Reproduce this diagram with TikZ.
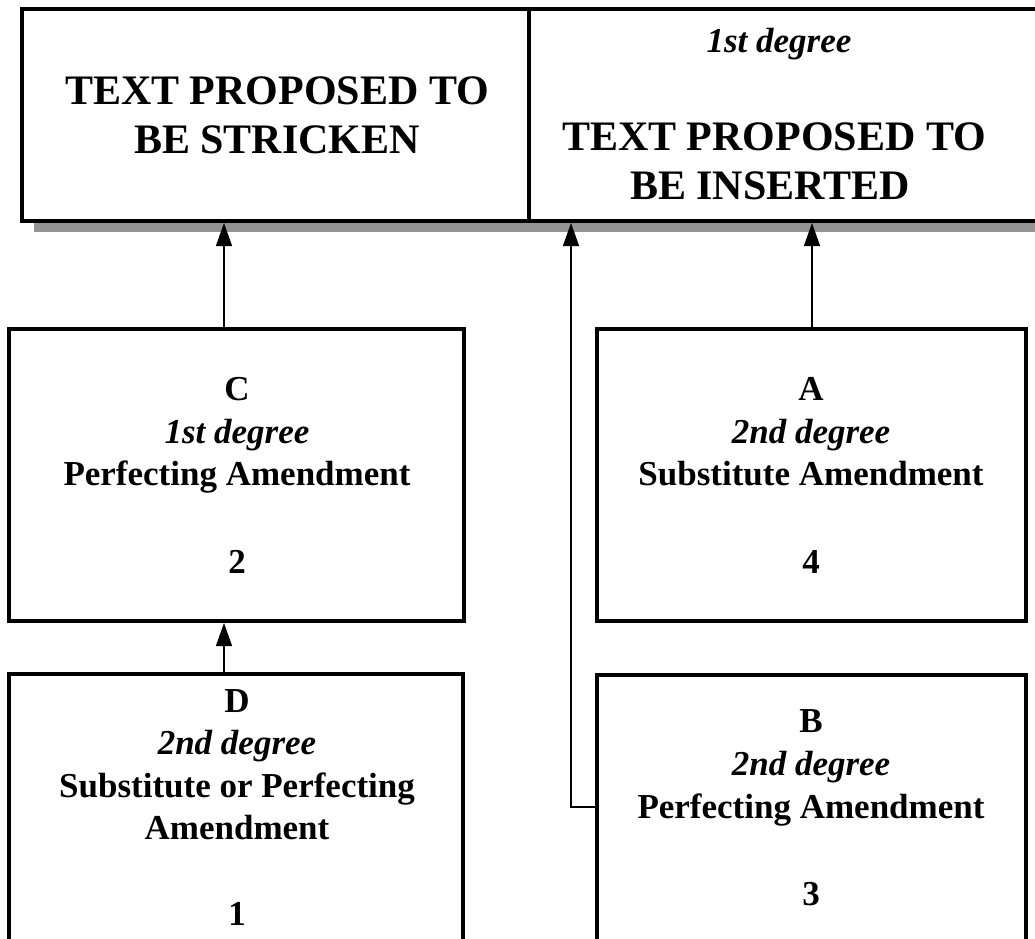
\documentclass[tikz,border=0pt]{standalone}
\usepackage{fontspec}
\setmainfont{Liberation Serif}
\usetikzlibrary{arrows.meta}
\tikzset{
  box/.style={draw=black, line width=4pt, fill=white, inner sep=0pt, line join=miter, rectangle},
  conn/.style={draw=black, line width=1.3pt, -{Triangle[length=23pt,width=16pt]}},
  big/.style={anchor=base, inner sep=0pt, font=\bfseries\fontsize{42}{49}\selectfont},
  lbl/.style={anchor=base, inner sep=0pt, font=\bfseries\fontsize{35}{42}\selectfont},
  ital/.style={anchor=base, inner sep=0pt, font=\bfseries\itshape\fontsize{35}{42}\selectfont},
}
\begin{document}
\begin{tikzpicture}[x=1pt, y=-1pt]
\useasboundingbox (0,0) rectangle (1035,938);
\clip (0,0) rectangle (1035,938);
% shadow of top box
\fill[black!42] (34,20) rectangle (1060,232);
% top boxes
\node[box, minimum width=507pt, minimum height=212pt] (strick) at (275.5,115) {};
\node[box, minimum width=520pt, minimum height=212pt] (insert) at (789,115) {};
% middle boxes
\node[box, minimum width=455pt, minimum height=292pt] (C) at (236.5,475) {};
\node[box, minimum width=429pt, minimum height=292pt] (A) at (811.5,475) {};
% bottom boxes
\node[box, minimum width=454pt, minimum height=300pt] (D) at (236,824) {};
\node[box, minimum width=429pt, minimum height=300pt] (B) at (811.5,825) {};
% connector x positions
\coordinate (xl) at (224,0);
\coordinate (xm) at (571,0);
\coordinate (xr) at (812,0);
\coordinate (bend) at (571,807);
% connectors
\draw[conn] (C.north -| xl) -- (strick.south -| xl);
\draw[conn] (A.north -| xr) -- (insert.south -| xr);
\draw[conn] (D.north -| xl) -- (C.south -| xl);
\draw[conn] (B.west |- bend) -- (bend) -- (insert.south -| xm);
% texts
\node[big] (t1) at (277,104) {TEXT PROPOSED TO};
\node[big] (t2) at (277,153) {BE STRICKEN};
\node[ital] (t3) at (779,52) {1st degree};
\node[big] (t4) at (774,150) {TEXT PROPOSED TO};
\node[big] (t5) at (770,199) {BE INSERTED};
\node[lbl] (c1) at (237,400) {C};
\node[ital] (c2) at (237,443) {1st degree};
\node[lbl] (c3) at (237,485) {Perfecting Amendment};
\node[lbl] (c4) at (237,573) {2};
\node[lbl] (a1) at (811,400) {A};
\node[ital] (a2) at (811,443) {2nd degree};
\node[lbl] (a3) at (811,485) {Substitute Amendment};
\node[lbl] (a4) at (811,573) {4};
\node[lbl] (d1) at (237,712) {D};
\node[ital] (d2) at (237,754) {2nd degree};
\node[lbl] (d3) at (237,797) {Substitute or Perfecting};
\node[lbl] (d4) at (237,839) {Amendment};
\node[lbl] (d5) at (237,925) {1};
\node[lbl] (b1) at (811,732) {B};
\node[ital] (b2) at (811,775) {2nd degree};
\node[lbl] (b3) at (811,818) {Perfecting Amendment};
\node[lbl] (b4) at (811,905) {3};
\end{tikzpicture}
\end{document}
